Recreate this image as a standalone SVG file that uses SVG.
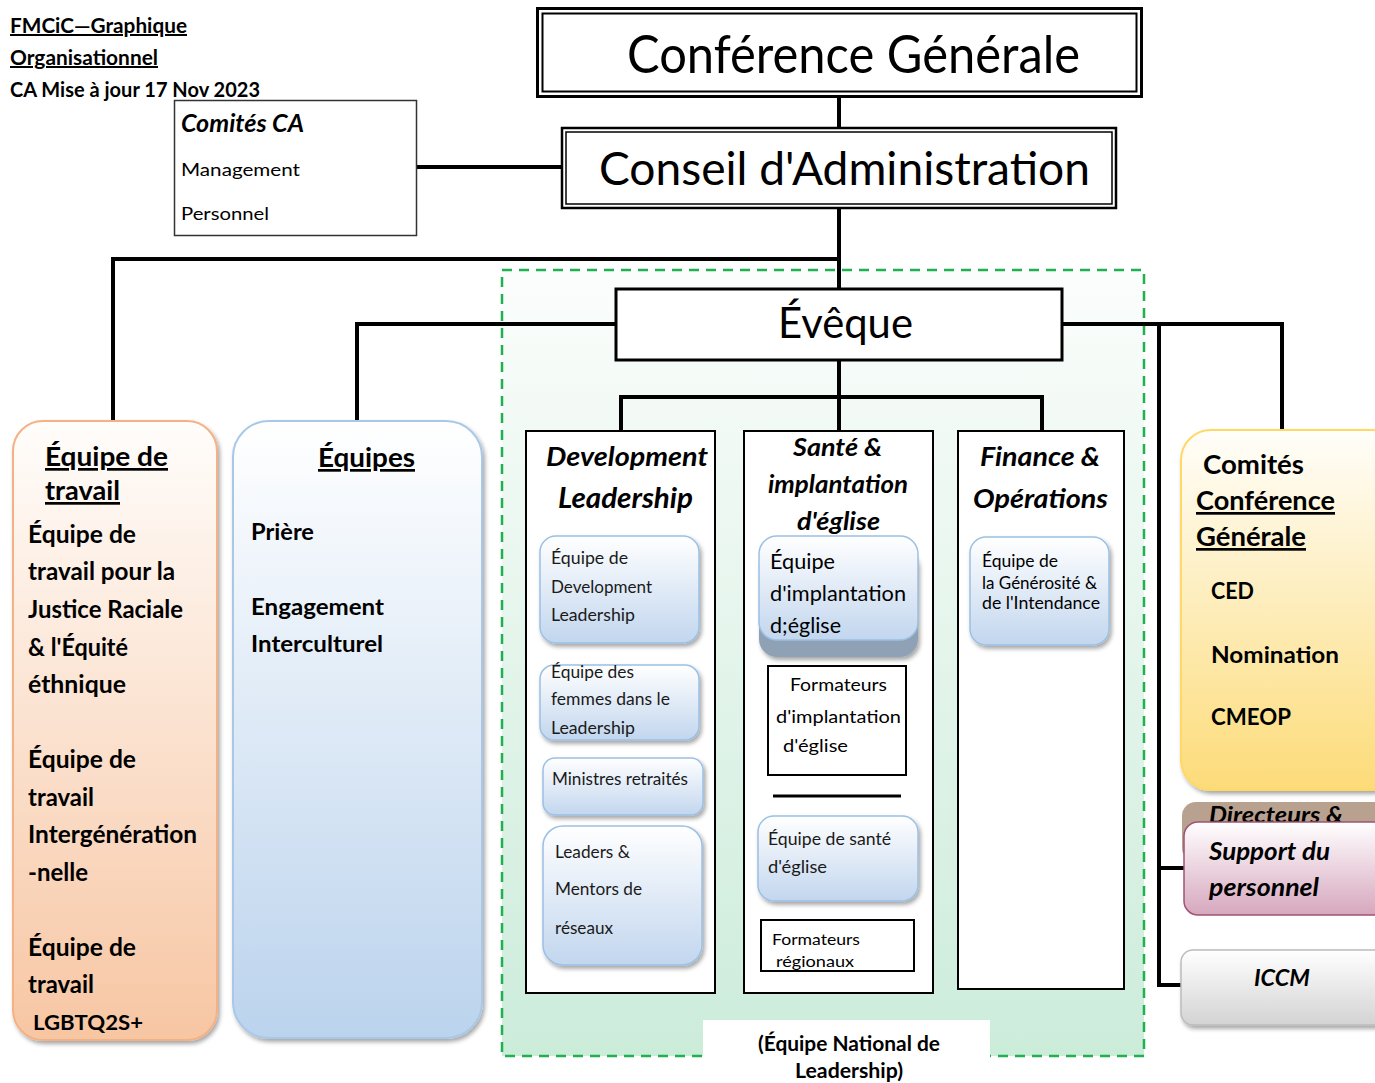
<svg xmlns="http://www.w3.org/2000/svg" width="1375" height="1083" viewBox="0 0 1375 1083">
<defs>
<style>
text{font-family:Lato,"Liberation Sans","Noto Sans",sans-serif;fill:#000}
.b{font-weight:bold}
.bi{font-weight:bold;font-style:italic}
.u{text-decoration:underline}
.ln{stroke:#000;stroke-width:4;fill:none;stroke-linecap:square}
.box{fill:#fff;stroke:#000;stroke-width:2}
.sub{fill:url(#gSub);stroke:#9bc0e4;stroke-width:1.5;filter:url(#sh)}
.st{font-size:17px;fill:#1a1a1a}
</style>
<linearGradient id="gOrange" x1="0" y1="0" x2="0" y2="1"><stop offset="0" stop-color="#fffdfb"/><stop offset="1" stop-color="#f7c6a3"/></linearGradient>
<linearGradient id="gBlue" x1="0" y1="0" x2="0" y2="1"><stop offset="0" stop-color="#ffffff"/><stop offset="1" stop-color="#bbd3ed"/></linearGradient>
<linearGradient id="gSub" x1="0" y1="0" x2="0" y2="1"><stop offset="0" stop-color="#ffffff"/><stop offset="1" stop-color="#c2d6ee"/></linearGradient>
<linearGradient id="gYellow" x1="0" y1="0" x2="0" y2="1"><stop offset="0" stop-color="#fffefa"/><stop offset="1" stop-color="#fcdb78"/></linearGradient>
<linearGradient id="gPink" x1="0" y1="0" x2="0" y2="1"><stop offset="0" stop-color="#ffffff"/><stop offset="1" stop-color="#d6a7be"/></linearGradient>
<linearGradient id="gGray" x1="0" y1="0" x2="0" y2="1"><stop offset="0" stop-color="#ffffff"/><stop offset="1" stop-color="#d3d3d3"/></linearGradient>
<linearGradient id="gGreen" x1="0" y1="0" x2="0" y2="1"><stop offset="0" stop-color="#fbfdfc"/><stop offset="1" stop-color="#ccecda"/></linearGradient>
<filter id="sh" x="-10%" y="-10%" width="125%" height="125%"><feDropShadow dx="2" dy="3" stdDeviation="2" flood-color="#000" flood-opacity="0.35"/></filter>
</defs>

<!-- title -->
<g id="title">
<text x="10" y="33" class="b u" font-size="20" textLength="177" lengthAdjust="spacingAndGlyphs">FMCiC—Graphique</text>
<text x="10" y="65" class="b u" font-size="20" textLength="148" lengthAdjust="spacingAndGlyphs">Organisationnel</text>
<text x="10" y="97" class="b" font-size="20" textLength="250" lengthAdjust="spacingAndGlyphs">CA Mise à jour 17 Nov 2023</text>
</g>

<!-- green leadership area -->
<g id="equipe-nationale">
<rect x="502" y="270" width="642" height="786" fill="url(#gGreen)" stroke="#1fb04f" stroke-width="2.5" stroke-dasharray="10 7"/>
<rect x="703" y="1020" width="287" height="63" fill="#fff"/>
<text x="758" y="1051" class="b" font-size="21" textLength="182" lengthAdjust="spacingAndGlyphs">(Équipe National de</text>
<text x="795" y="1078" class="b" font-size="21" textLength="108" lengthAdjust="spacingAndGlyphs">Leadership)</text>
</g>

<!-- connectors -->
<g id="connectors">
<path class="ln" d="M417 167H561"/>
<path class="ln" d="M839 98V127"/>
<path class="ln" d="M839 209V288"/>
<path class="ln" d="M839 259H113V421"/>
<path class="ln" d="M615 324H357V421"/>
<path class="ln" d="M1063 324H1282V430"/>
<path class="ln" d="M1159 324V985H1181"/>
<path class="ln" d="M1159 868H1184"/>
<path class="ln" d="M839 361V431"/>
<path class="ln" d="M621 431V397H1042V431"/>
<path class="ln" d="M619 643V663"/>
</g>

<!-- Conference Generale -->
<g id="conference-generale">
<rect x="537.5" y="8.5" width="604" height="88" fill="#fff" stroke="#000" stroke-width="3"/>
<rect x="542.5" y="13.5" width="594" height="78" fill="none" stroke="#000" stroke-width="2"/>
<text x="627" y="73" font-size="52" textLength="453" lengthAdjust="spacingAndGlyphs">Conférence Générale</text>
</g>

<!-- Conseil d'Administration -->
<g id="conseil-administration">
<rect x="562" y="128" width="554" height="80" fill="#fff" stroke="#000" stroke-width="2.5"/>
<rect x="566" y="132" width="546" height="72" fill="none" stroke="#000" stroke-width="1.5"/>
<text x="599" y="185" font-size="47" textLength="491" lengthAdjust="spacingAndGlyphs">Conseil d'Administration</text>
</g>

<!-- Comites CA -->
<g id="comites-ca">
<rect x="174.5" y="100.5" width="242" height="135" fill="#fff" stroke="#333" stroke-width="1.5"/>
<text x="181" y="132" class="bi" font-size="24" textLength="123" lengthAdjust="spacingAndGlyphs">Comités CA</text>
<text x="181" y="176" font-size="18" fill="#1a1a2e" textLength="119" lengthAdjust="spacingAndGlyphs">Management</text>
<text x="181" y="220" font-size="18" fill="#1a1a2e" textLength="88" lengthAdjust="spacingAndGlyphs">Personnel</text>
</g>

<!-- Eveque -->
<g id="eveque">
<rect x="616" y="289" width="446" height="71" fill="#fff" stroke="#000" stroke-width="3"/>
<text x="778" y="338" font-size="43" textLength="135" lengthAdjust="spacingAndGlyphs">Évêque</text>
</g>

<!-- Equipe de travail (orange) -->
<g id="equipe-de-travail">
<rect x="13" y="421" width="204" height="619" rx="30" fill="url(#gOrange)" stroke="#f4b184" stroke-width="2" filter="url(#sh)"/>
<text x="45" y="466" class="b u" font-size="27" textLength="123" lengthAdjust="spacingAndGlyphs">Équipe de</text>
<text x="45" y="500" class="b u" font-size="27" textLength="75" lengthAdjust="spacingAndGlyphs">travail</text>
<g class="b" font-size="24">
<text x="28" y="543" textLength="108" lengthAdjust="spacingAndGlyphs">Équipe de</text>
<text x="28" y="580" textLength="147" lengthAdjust="spacingAndGlyphs">travail pour la</text>
<text x="28" y="618" textLength="155" lengthAdjust="spacingAndGlyphs">Justice Raciale</text>
<text x="28" y="656" textLength="100" lengthAdjust="spacingAndGlyphs">&amp; l'Équité</text>
<text x="28" y="693" textLength="98" lengthAdjust="spacingAndGlyphs">éthnique</text>
<text x="28" y="768" textLength="108" lengthAdjust="spacingAndGlyphs">Équipe de</text>
<text x="28" y="806" textLength="66" lengthAdjust="spacingAndGlyphs">travail</text>
<text x="28" y="843" textLength="169" lengthAdjust="spacingAndGlyphs">Intergénération</text>
<text x="28" y="881" textLength="60" lengthAdjust="spacingAndGlyphs">-nelle</text>
<text x="28" y="956" textLength="108" lengthAdjust="spacingAndGlyphs">Équipe de</text>
<text x="28" y="993" textLength="66" lengthAdjust="spacingAndGlyphs">travail</text>
</g>
<text x="33" y="1030" class="b" font-size="21" textLength="110" lengthAdjust="spacingAndGlyphs">LGBTQ2S+</text>
</g>

<!-- Equipes (blue) -->
<g id="equipes">
<rect x="233" y="421" width="249" height="617" rx="36" fill="url(#gBlue)" stroke="#a9c8e8" stroke-width="2" filter="url(#sh)"/>
<text x="318" y="467" class="b u" font-size="27" textLength="97" lengthAdjust="spacingAndGlyphs">Équipes</text>
<g class="b" font-size="22">
<text x="251" y="540" textLength="63" lengthAdjust="spacingAndGlyphs">Prière</text>
<text x="251" y="615" textLength="133" lengthAdjust="spacingAndGlyphs">Engagement</text>
<text x="251" y="652" textLength="132" lengthAdjust="spacingAndGlyphs">Interculturel</text>
</g>
</g>

<!-- Development Leadership column -->
<g id="development-leadership">
<rect x="526" y="431" width="189" height="562" class="box"/>
<text x="546" y="466" class="bi" font-size="26" textLength="162" lengthAdjust="spacingAndGlyphs">Development</text>
<text x="558" y="508" class="bi" font-size="28" textLength="135" lengthAdjust="spacingAndGlyphs">Leadership</text>
</g>
<g id="equipe-development-leadership">
<rect x="540" y="536" width="159" height="107" rx="16" class="sub"/>
<text x="551" y="564" class="st" textLength="77" lengthAdjust="spacingAndGlyphs">Équipe de</text>
<text x="551" y="593" class="st" textLength="101" lengthAdjust="spacingAndGlyphs">Development</text>
<text x="551" y="621" class="st" textLength="84" lengthAdjust="spacingAndGlyphs">Leadership</text>
</g>
<g id="equipe-femmes-leadership">
<rect x="540" y="665" width="159" height="75" rx="14" class="sub"/>
<text x="551" y="678" class="st" textLength="83" lengthAdjust="spacingAndGlyphs">Équipe des</text>
<text x="551" y="705" class="st" textLength="119" lengthAdjust="spacingAndGlyphs">femmes dans le</text>
<text x="551" y="734" class="st" textLength="84" lengthAdjust="spacingAndGlyphs">Leadership</text>
</g>
<g id="ministres-retraites">
<rect x="543" y="758" width="160" height="57" rx="12" class="sub"/>
<text x="552" y="785" class="st" textLength="136" lengthAdjust="spacingAndGlyphs">Ministres retraités</text>
</g>
<g id="leaders-mentors">
<rect x="543" y="826" width="159" height="139" rx="20" class="sub"/>
<text x="555" y="858" class="st" textLength="75" lengthAdjust="spacingAndGlyphs">Leaders &amp;</text>
<text x="555" y="895" class="st" textLength="87" lengthAdjust="spacingAndGlyphs">Mentors de</text>
<text x="555" y="934" class="st" textLength="58" lengthAdjust="spacingAndGlyphs">réseaux</text>
</g>

<!-- Sante column -->
<g id="sante-implantation">
<rect x="744" y="431" width="189" height="562" class="box"/>
<text x="793" y="456" class="bi" font-size="24" textLength="89" lengthAdjust="spacingAndGlyphs">Santé &amp;</text>
<text x="768" y="493" class="bi" font-size="24" textLength="140" lengthAdjust="spacingAndGlyphs">implantation</text>
<text x="797" y="530" class="bi" font-size="24" textLength="83" lengthAdjust="spacingAndGlyphs">d'église</text>
</g>
<g id="equipe-implantation">
<rect x="759" y="548" width="159" height="109" rx="18" fill="#8fa1b5" filter="url(#sh)"/>
<rect x="759" y="536" width="159" height="104" rx="18" fill="url(#gSub)" stroke="#9bc0e4" stroke-width="1.5"/>
<text x="770" y="569" font-size="21" fill="#1a1a1a" textLength="65" lengthAdjust="spacingAndGlyphs">Équipe</text>
<text x="770" y="601" font-size="21" fill="#1a1a1a" textLength="136" lengthAdjust="spacingAndGlyphs">d'implantation</text>
<text x="770" y="633" font-size="21" fill="#1a1a1a" textLength="71" lengthAdjust="spacingAndGlyphs">d;église</text>
</g>
<g id="formateurs-implantation">
<rect x="768" y="666" width="138" height="109" class="box"/>
<text x="790" y="691" font-size="18" fill="#1a1a1a" textLength="97" lengthAdjust="spacingAndGlyphs">Formateurs</text>
<text x="776" y="723" font-size="18" fill="#1a1a1a" textLength="125" lengthAdjust="spacingAndGlyphs">d'implantation</text>
<text x="783" y="752" font-size="18" fill="#1a1a1a" textLength="65" lengthAdjust="spacingAndGlyphs">d'église</text>
</g>
<path d="M773 796H901" stroke="#000" stroke-width="3"/>
<g id="equipe-sante">
<rect x="758" y="816" width="160" height="85" rx="16" class="sub"/>
<text x="768" y="845" class="st" textLength="123" lengthAdjust="spacingAndGlyphs">Équipe de santé</text>
<text x="768" y="873" class="st" textLength="59" lengthAdjust="spacingAndGlyphs">d'église</text>
</g>
<g id="formateurs-regionaux">
<rect x="761" y="920" width="153" height="51" class="box"/>
<text x="772" y="945" font-size="16" fill="#1a1a1a" textLength="88" lengthAdjust="spacingAndGlyphs">Formateurs</text>
<text x="776" y="967" font-size="16" fill="#1a1a1a" textLength="78" lengthAdjust="spacingAndGlyphs">régionaux</text>
</g>

<!-- Finance column -->
<g id="finance-operations">
<rect x="958" y="431" width="166" height="558" class="box"/>
<text x="980" y="466" class="bi" font-size="26" textLength="120" lengthAdjust="spacingAndGlyphs">Finance &amp;</text>
<text x="973" y="508" class="bi" font-size="26" textLength="135" lengthAdjust="spacingAndGlyphs">Opérations</text>
</g>
<g id="equipe-generosite">
<rect x="970" y="537" width="139" height="108" rx="16" class="sub"/>
<text x="982" y="567" font-size="16.5" fill="#1a1a1a" textLength="76" lengthAdjust="spacingAndGlyphs">Équipe de</text>
<text x="982" y="589" font-size="16.5" fill="#1a1a1a" textLength="115" lengthAdjust="spacingAndGlyphs">la Générosité &amp;</text>
<text x="982" y="609" font-size="16.5" fill="#1a1a1a" textLength="118" lengthAdjust="spacingAndGlyphs">de l'Intendance</text>
</g>

<!-- Comites Conference Generale (yellow) -->
<g id="comites-conference-generale">
<rect x="1181" y="430" width="220" height="360" rx="30" fill="url(#gYellow)" stroke="#ffd966" stroke-width="2" filter="url(#sh)"/>
<text x="1203" y="474" class="b" font-size="27" textLength="101" lengthAdjust="spacingAndGlyphs">Comités</text>
<text x="1196" y="510" class="b u" font-size="27" textLength="139" lengthAdjust="spacingAndGlyphs">Conférence</text>
<text x="1196" y="546" class="b u" font-size="27" textLength="110" lengthAdjust="spacingAndGlyphs">Générale</text>
<g class="b" font-size="22">
<text x="1211" y="599" textLength="43" lengthAdjust="spacingAndGlyphs">CED</text>
<text x="1211" y="663" textLength="128" lengthAdjust="spacingAndGlyphs">Nomination</text>
<text x="1211" y="725" textLength="80" lengthAdjust="spacingAndGlyphs">CMEOP</text>
</g>
</g>

<!-- Directeurs & Support du personnel -->
<g id="directeurs-support">
<rect x="1182" y="802" width="220" height="60" rx="14" fill="#b9a190"/>
<text x="1209" y="823" class="bi" font-size="22" textLength="134" lengthAdjust="spacingAndGlyphs">Directeurs &amp;</text>
<rect x="1184" y="822" width="220" height="93" rx="14" fill="url(#gPink)" stroke="#a05373" stroke-width="1.5"/>
<text x="1209" y="860" class="bi" font-size="24" textLength="121" lengthAdjust="spacingAndGlyphs">Support du</text>
<text x="1209" y="896" class="bi" font-size="24" textLength="110" lengthAdjust="spacingAndGlyphs">personnel</text>
</g>

<!-- ICCM -->
<g id="iccm">
<rect x="1181" y="950" width="220" height="75" rx="12" fill="url(#gGray)" stroke="#bcbcbc" stroke-width="1.5" filter="url(#sh)"/>
<text x="1254" y="986" class="bi" font-size="22" textLength="56" lengthAdjust="spacingAndGlyphs">ICCM</text>
</g>
</svg>
